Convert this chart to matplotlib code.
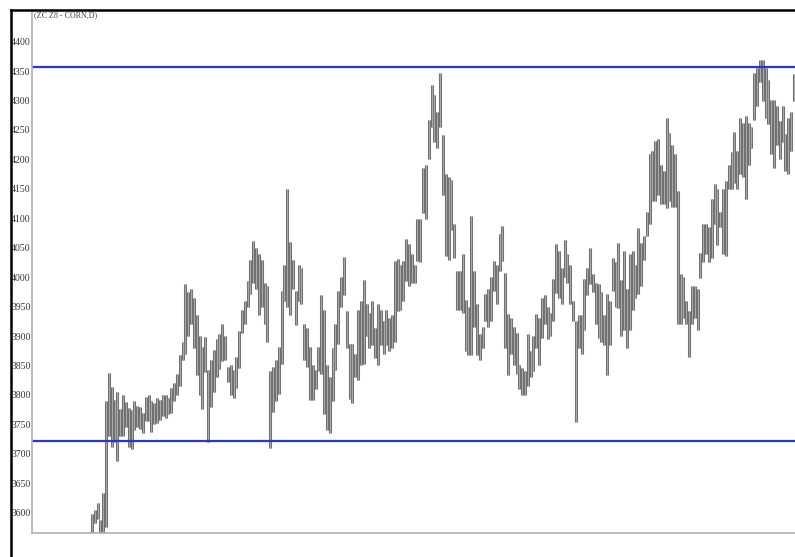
import numpy as np
import matplotlib.pyplot as plt
from matplotlib.lines import Line2D

# ZC Z8 corn daily bars (high, low)
highs = [
    # Aug/Sep
    3597, 3605, 3617, 3588, 3634, 3790, 3838, 3814, 3792, 3805, 3776, 3800, 3788, 3778, 3775, 3790,
    3782, 3780, 3770, 3797, 3800, 3790, 3786, 3795, 3792, 3800, 3800, 3795, 3812, 3820, 3835, 3868,
    3890, 3988, 3975, 3980, 3965, 3935, 3900, 3882, 3899, 3843, 3860, 3877, 3895, 3904, 3920, 3900,
    3848, 3850, 3843, 3865, 3908, 3945, 3959, 3993, 4030, 4062, 4050, 4040, 4030, 3990, 3985, 3840,
    3848, 3860, 3882, 3976, 4020, 4150,
    4060, 4030, 3976, 4020, 4015, 3921, 3913, 3882, 3850, 3843, 3882, 3970, 3945, 3850, 3830, 3880,
    3921, 3976, 4000, 4035, 3942, 3887, 3887, 3870, 3945, 3959, 3995, 3955, 3940, 3960, 3913, 3955,
    3945, 3925, 3945, 3930, 3935, 4027, 4031, 4020, 4027, 4065, 4057, 4040, 4020, 4099, 4099, 4185,
    4190, 4267, 4326, 4310, 4280, 4347,
    4241, 4175, 4170, 4165, 4091, 4010, 4010, 4040, 3962, 3950, 4104, 4010, 3955, 3903, 3915, 3971,
    3980, 4000, 4027, 4020, 4074, 4087, 4007, 3937, 3930, 3915, 3905, 3851, 3845, 3840, 3903, 3875,
    3900, 3937, 3930, 3964, 3970, 3950, 3940, 3997, 4056, 4045, 4015, 4063, 4040, 4020, 3960, 3925,
    3935, 3935, 3997, 4015, 4049, 4005, 3990, 3988, 3975, 3935, 3971, 3960, 4032, 4025, 4058, 3995,
    4045, 3980, 4040, 4045, 4020, 4084, 4058, 4070, 4110, 4210, 4215, 4232, 4235, 4190, 4180, 4270,
    4245, 4225, 4210, 4147, 4005, 4000, 3960, 3942, 3985, 3985, 3980, 4041, 4090, 4090, 4085, 4133,
    4159, 4150, 4110, 4150, 4164, 4190, 4212, 4246, 4215, 4270, 4262, 4274, 4262, 4255, 4347, 4355,
    4369,
    4369, 4355, 4335, 4301, 4301, 4290, 4265, 4290, 4244, 4270, 4280, 4345,
]
lows = [
    3558, 3582, 3590, 3558, 3560, 3575, 3730, 3711, 3720, 3688, 3730, 3730, 3745, 3712, 3708, 3740,
    3745, 3742, 3735, 3755, 3755, 3737, 3750, 3752, 3758, 3765, 3760, 3768, 3770, 3790, 3800, 3815,
    3860, 3870, 3900, 3920, 3880, 3834, 3800, 3776, 3839, 3720, 3780, 3805, 3830, 3844, 3857, 3860,
    3822, 3800, 3795, 3812, 3845, 3905, 3920, 3950, 3971, 3990, 3980, 3936, 3950, 3920, 3890, 3710,
    3771, 3790, 3802, 3853, 3960, 3950,
    3936, 3980, 3918, 3960, 3955, 3860, 3848, 3792, 3792, 3810, 3840, 3835, 3768, 3740, 3735, 3790,
    3843, 3886, 3950, 3970, 3879, 3793, 3787, 3830, 3825, 3851, 3853, 3900, 3880, 3885, 3862, 3850,
    3885, 3870, 3885, 3875, 3880, 3890, 3942, 3945, 3960, 3993, 3985, 3990, 3990, 4027, 4025, 4109,
    4099, 4200, 4255, 4230, 4220, 4255,
    4140, 4036, 4030, 4080, 4033, 3945, 3945, 3940, 3874, 3868, 3868, 3915, 3868, 3860, 3880, 3925,
    3915, 3925, 3976, 3955, 4010, 4027, 3879, 3834, 3870, 3850, 3835, 3810, 3800, 3800, 3815, 3830,
    3840, 3879, 3850, 3896, 3920, 3895, 3900, 3925, 3973, 3965, 3955, 4000, 3990, 3955, 3925, 3754,
    3880, 3870, 3910, 3970, 3988, 3975, 3920, 3896, 3890, 3885, 3834, 3885, 3976, 3950, 3947, 3900,
    3910, 3880, 3910, 3945, 3965, 3971, 3985, 4030, 4070, 4090, 4130, 4130, 4140, 4125, 4125, 4118,
    4130, 4120, 4120, 3920, 3920, 3930, 3920, 3865, 3920, 3930, 3910, 3998, 4025, 4040, 4025, 4033,
    4091, 4055, 4085, 4040, 4036, 4150, 4150, 4160, 4150, 4175, 4170, 4133, 4190, 4220, 4267, 4290,
    4332,
    4300, 4270, 4260, 4210, 4186, 4225, 4200, 4230, 4181, 4175, 4215, 4300,
]
y_ticks = list(range(3600, 4401, 50))
resistance = 4357
support = 3721
title = "(ZC Z8 - CORN,D)"

W, H = 795, 557
fig = plt.figure(figsize=(W / 100, H / 100), dpi=100)
fig.patch.set_facecolor("white")

ax = fig.add_axes([32 / W, 1 - 533 / H, 1 - 32 / W, (533 - 10) / H])
x = np.arange(len(highs))
ax.vlines(x, lows, highs, color="#6a6a6a", lw=2.2)
ax.vlines(x, lows, highs, color="#a9a9a9", lw=0.9)

ax.axhline(resistance, color="#2436d6", lw=1.6)
ax.axhline(support, color="#2436d6", lw=1.6)

ax.set_xlim(-21.2, len(highs) - 0.6)
ax.set_ylim(3565.5, 4453.8)
ax.set_yticks(y_ticks)
ax.set_yticklabels([str(v) for v in y_ticks], fontfamily="Liberation Serif",
                   fontsize=7, color="#333333")
ax.tick_params(axis="y", length=0, pad=1)
ax.set_xticks([])

for s in ["top", "right"]:
    ax.spines[s].set_visible(False)
ax.spines["left"].set_color("#b0b0b0")
ax.spines["bottom"].set_color("#b0b0b0")
ax.spines["left"].set_linewidth(1.2)
ax.spines["bottom"].set_linewidth(1.2)

ax.text(0.002, 0.997, title, transform=ax.transAxes, ha="left", va="top",
        fontfamily="Liberation Serif", fontsize=5.8, color="#444444")

# black frame of the window
fig.add_artist(Line2D([11 / W, 11 / W], [0, 1 - 10 / H], color="black", lw=1.8))
fig.add_artist(Line2D([11 / W, 1], [1 - 10 / H, 1 - 10 / H], color="black", lw=1.8))

fig.savefig("out.png", dpi=100)
